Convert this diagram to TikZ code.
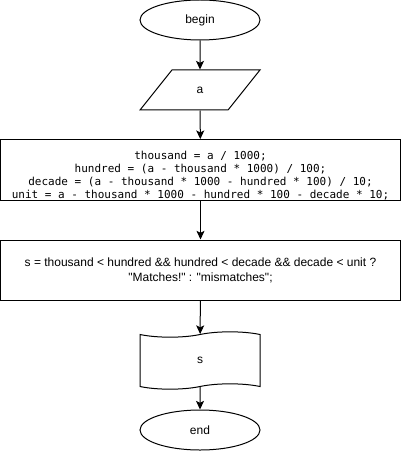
\documentclass[tikz,border=0pt]{standalone}
\usepackage{fontspec}
\usepackage{tikz}
\usetikzlibrary{
	arrows.meta,
	positioning,
	shapes.geometric,
	shapes.symbols
}
\newfontfamily\flowfont{Liberation Sans}[Ligatures=TeXOff]
\newfontfamily\codefont{DejaVu Sans Mono}
\tikzset{
	flowline/.style={line width=0.75pt},
	terminal/.style={draw, flowline, ellipse, minimum width=90pt, minimum height=30pt, inner sep=0pt},
	inputbox/.style={draw, flowline, trapezium, trapezium left angle=60, trapezium right angle=120,
		trapezium stretches=true, minimum width=90pt, minimum height=30pt, inner sep=0pt},
	procbox/.style={draw, flowline, rectangle, minimum width=300pt, minimum height=45pt, inner sep=0pt, align=center},
	outputtape/.style={draw, flowline, tape, tape bend top=in and out, tape bend bottom=in and out,
		tape bend height=4pt, minimum width=90pt, minimum height=43pt, inner sep=0pt}
}

\begin{document}
\begin{tikzpicture}[x=0.75pt, y=-0.75pt, >={Stealth[length=6.5pt, width=6pt, inset=1.5pt]},
		font={\flowfont\fontsize{9}{11.25}\selectfont}]
			\useasboundingbox (0,0) rectangle (401,452);
			\node[terminal] (start) at (200,20) {begin};
			\node[inputbox] (input) at (200,90) {a};
			% code lines sit low in the box
			\node[procbox, font={\codefont\fontsize{8.25}{9.8}\selectfont}] (digits) at (200.5,170)
				{\rule{0pt}{15pt}thousand = a / 1000;\\hundred = (a - thousand * 1000) / 100;\\
				decade = (a - thousand * 1000 - hundred * 100) / 10;\\
				unit = a - thousand * 1000 - hundred * 100 - decade * 10;};
			\node[procbox] (compare) at (200.5,270)
				{s = thousand < hundred \&\& hundred < decade \&\& decade < unit ?\\"Matches!" : "mismatches";};
			\node[outputtape] (output) at (200,360.5) {s};
			\node[terminal] (stop) at (200,430) {end};
			\draw[->, flowline] (start) -- (input);
			\draw[->, flowline] (input) -- (digits);
			\draw[->, flowline] (digits) -- (compare);
			\draw[->, flowline] (compare) -- (output);
			\draw[->, flowline] (output) -- (stop);
		\end{tikzpicture}
\end{document}
